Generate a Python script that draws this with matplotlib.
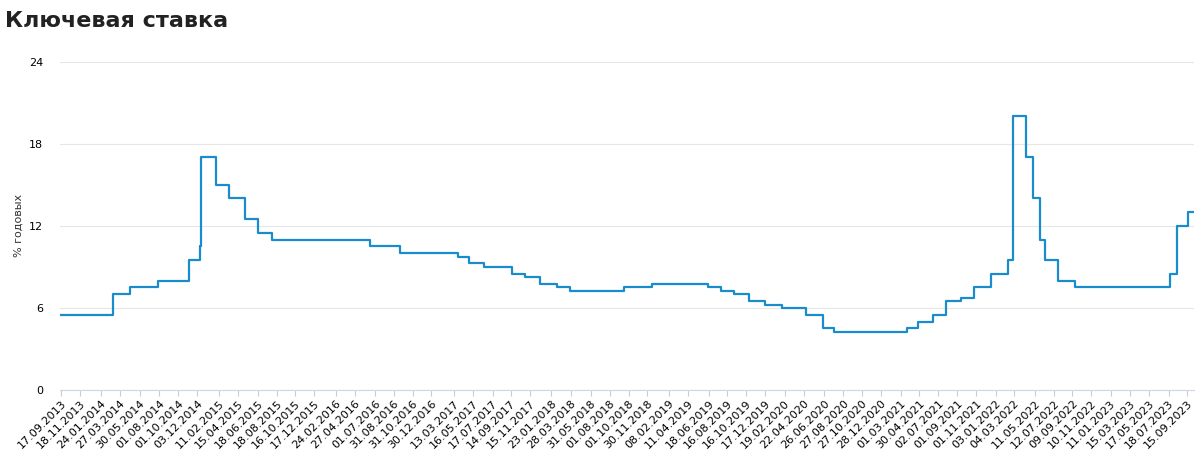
import matplotlib.pyplot as plt
import matplotlib.dates as mdates
import pandas as pd

# Изменения ключевой ставки (дата, % годовых)
change_dates = ["13.09.2013", "03.03.2014", "28.04.2014", "28.07.2014", "05.11.2014",
                "12.12.2014", "16.12.2014", "02.02.2015", "16.03.2015", "05.05.2015",
                "16.06.2015", "03.08.2015", "14.06.2016", "19.09.2016", "27.03.2017",
                "02.05.2017", "19.06.2017", "18.09.2017", "30.10.2017", "18.12.2017",
                "12.02.2018", "26.03.2018", "17.09.2018", "17.12.2018", "17.06.2019",
                "29.07.2019", "09.09.2019", "28.10.2019", "16.12.2019", "10.02.2020",
                "27.04.2020", "22.06.2020", "27.07.2020", "22.03.2021", "26.04.2021",
                "15.06.2021", "26.07.2021", "13.09.2021", "25.10.2021", "20.12.2021",
                "14.02.2022", "28.02.2022", "11.04.2022", "04.05.2022", "27.05.2022",
                "14.06.2022", "25.07.2022", "19.09.2022", "24.07.2023", "15.08.2023",
                "18.09.2023", "10.10.2023"]
rates = [5.5, 7.0, 7.5, 8.0, 9.5, 10.5, 17.0, 15.0, 14.0, 12.5,
         11.5, 11.0, 10.5, 10.0, 9.75, 9.25, 9.0, 8.5, 8.25, 7.75,
         7.5, 7.25, 7.5, 7.75, 7.5, 7.25, 7.0, 6.5, 6.25, 6.0,
         5.5, 4.5, 4.25, 4.5, 5.0, 5.5, 6.5, 6.75, 7.5, 8.5,
         9.5, 20.0, 17.0, 14.0, 11.0, 9.5, 8.0, 7.5, 8.5, 12.0,
         13.0, 13.0]

tick_labels = ["17.09.2013", "18.11.2013", "24.01.2014", "27.03.2014", "30.05.2014",
               "01.08.2014", "01.10.2014", "03.12.2014", "11.02.2015", "15.04.2015",
               "18.06.2015", "18.08.2015", "16.10.2015", "17.12.2015", "24.02.2016",
               "27.04.2016", "01.07.2016", "31.08.2016", "31.10.2016", "30.12.2016",
               "13.03.2017", "16.05.2017", "17.07.2017", "14.09.2017", "15.11.2017",
               "23.01.2018", "28.03.2018", "31.05.2018", "01.08.2018", "01.10.2018",
               "30.11.2018", "08.02.2019", "11.04.2019", "18.06.2019", "16.08.2019",
               "16.10.2019", "17.12.2019", "19.02.2020", "22.04.2020", "26.06.2020",
               "27.08.2020", "27.10.2020", "28.12.2020", "01.03.2021", "30.04.2021",
               "02.07.2021", "01.09.2021", "01.11.2021", "03.01.2022", "04.03.2022",
               "11.05.2022", "12.07.2022", "09.09.2022", "10.11.2022", "11.01.2023",
               "15.03.2023", "17.05.2023", "18.07.2023", "15.09.2023"]

x = pd.to_datetime(change_dates, format="%d.%m.%Y")
ticks = pd.to_datetime(tick_labels, format="%d.%m.%Y")

fig = plt.figure(figsize=(11.98, 4.53), dpi=100)
ax = fig.add_axes([0.05, 0.139, 0.947, 0.725])
ax.step(x, rates, where="post", color="#1a8ccc", lw=1.6)

ax.set_ylim(0, 24)
ax.set_yticks([0, 6, 12, 18, 24])
ax.set_xlim(pd.Timestamp("2013-09-13"), x[-1])
ax.set_xticks(ticks)
ax.set_xticklabels(tick_labels, rotation=45, ha="right", rotation_mode="anchor", fontsize=8)
ax.tick_params(axis="y", labelsize=8, length=0, pad=12)
ax.tick_params(axis="x", length=4, color="#cccccc", pad=2)
ax.grid(axis="y", color="#e6e6e6", lw=0.8)
ax.set_axisbelow(True)
for s in ["top", "right", "left"]:
    ax.spines[s].set_visible(False)
ax.spines["bottom"].set_color("#ccd6eb")
ax.set_ylabel("% годовых", fontsize=8, color="#333333")

fig.text(0.004, 0.94, "Ключевая ставка", fontsize=16, fontweight="bold", color="#222222")
fig.savefig("out.png")
